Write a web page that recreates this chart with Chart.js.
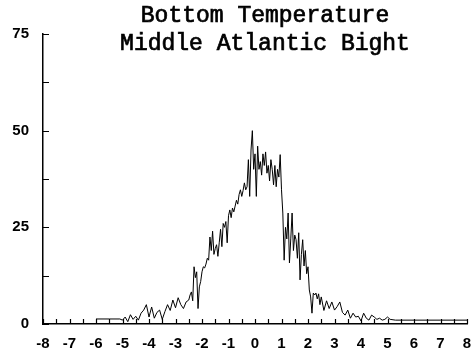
<!DOCTYPE html>
<html>
<head>
<meta charset="utf-8">
<script src="https://cdn.jsdelivr.net/npm/chart.js@4"></script>
<style>
  html, body { margin: 0; padding: 0; background: #fff; }
  #wrap { width: 471px; height: 358px; }
</style>
</head>
<body>
<div id="wrap"><canvas id="chart" width="471" height="358"></canvas></div>
<script>
const titleLines = ['Bottom Temperature', 'Middle Atlantic Bight'];

// temperature anomaly (x) and count (y)
const temps = [
  -6.0, -5.5, -5.1,
  -5.0, -4.9, -4.8, -4.7, -4.6, -4.5, -4.4, -4.3, -4.2, -4.1,
  -4.0, -3.9, -3.8, -3.7, -3.6, -3.5, -3.4, -3.3, -3.2, -3.1,
  -3.0, -2.9, -2.8, -2.7, -2.6, -2.5,
  -2.45, -2.40, -2.35, -2.30, -2.25, -2.20, -2.15, -2.10, -2.05,
  -2.00, -1.95, -1.90, -1.85, -1.80, -1.75, -1.70, -1.65, -1.60, -1.55,
  -1.50, -1.45, -1.40, -1.35, -1.30, -1.25, -1.20, -1.15, -1.10, -1.05,
  -1.00, -0.95, -0.90, -0.85, -0.80, -0.75, -0.70, -0.65, -0.60, -0.55,
  -0.50, -0.45, -0.40, -0.35, -0.30, -0.25, -0.20, -0.15, -0.10, -0.05,
  0.00, 0.05, 0.10, 0.15, 0.20, 0.25, 0.30, 0.35, 0.40, 0.45,
  0.50, 0.55, 0.60, 0.65, 0.70, 0.75, 0.80, 0.85, 0.90, 0.95,
  1.00, 1.05, 1.10, 1.15, 1.20, 1.25, 1.30, 1.35, 1.40, 1.45,
  1.50, 1.55, 1.60, 1.65, 1.70, 1.75, 1.80, 1.85, 1.90, 1.95,
  2.00, 2.05, 2.10, 2.15, 2.20, 2.25, 2.30, 2.35, 2.40, 2.45,
  2.5, 2.6, 2.7, 2.8, 2.9, 3.0, 3.1, 3.2, 3.3, 3.4,
  3.5, 3.6, 3.7, 3.8, 3.9, 4.0, 4.1, 4.2, 4.3, 4.4,
  4.5, 4.6, 4.7, 4.8, 4.9, 5.0, 5.1, 5.3, 6.0, 7.0, 8.0
];
const counts = [
  1.3, 1.3, 1.3,
  1.0, 1.8, 0.6, 2.4, 1.2, 2.0, 1.0, 2.8, 3.6, 5.0,
  1.8, 4.4, 1.5, 3.0, 3.6, 1.2, 3.2, 5.0, 3.5, 6.2,
  4.2, 6.8, 5.0, 4.0, 5.7, 6.2,
  7.5, 8.3, 6.0, 14.8, 12.0, 13.5, 4.0, 9.6, 11.0,
  13.5, 14.8, 14.5, 15.5, 17.0, 16.5, 22.5, 19.0, 24.0, 18.0,
  19.5, 20.5, 17.5, 21.0, 24.5, 20.0, 26.0, 25.0, 26.5, 21.0,
  28.0, 29.5, 27.5, 30.0, 29.0, 30.5, 32.0, 31.0, 33.5, 34.7,
  33.0, 34.5, 36.5, 34.7, 35.5, 42.5, 33.0, 45.0, 50.0, 40.0,
  44.0, 33.0, 46.0, 40.0, 42.0, 38.5, 44.0, 41.0, 44.5, 39.0,
  41.0, 37.0, 42.5, 40.0, 36.0, 41.0, 35.5, 40.0, 38.0, 43.8,
  34.7, 28.7, 16.5, 25.0, 22.0, 28.7, 15.8, 22.0, 28.7, 19.0,
  23.0, 21.8, 17.0, 23.6, 11.4, 18.0, 21.8, 15.0, 19.0, 13.0,
  14.8, 8.8, 7.0, 2.8, 8.0, 7.5, 8.0, 6.5, 7.8, 5.0,
  7.0, 3.5, 6.0, 4.0, 5.7, 3.6, 4.5, 5.7, 3.0, 2.3,
  3.6, 1.5, 2.8, 1.8, 2.0, 0.8, 2.8, 1.5, 1.0, 2.3,
  1.8, 1.2, 1.5, 1.0, 1.2, 1.8, 1.2, 1.0, 1.0, 1.0, 1.0
];

const xMin = -8, xMax = 8, xStep = 0.5;
const yMin = 0, yMax = 75, yStep = 12.5, yLabelStep = 25;

// small inward ticks + the title text drawn over the plot
const decor = {
  id: 'decor',
  afterDraw(chart) {
    const ctx = chart.ctx;
    const x = chart.scales.x, y = chart.scales.y;
    ctx.save();
    ctx.strokeStyle = '#000';
    ctx.lineWidth = 1.2;
    ctx.beginPath();
    x.ticks.forEach(t => {
      const px = Math.round(x.getPixelForValue(t.value)) + 0.5;
      ctx.moveTo(px, y.bottom);
      ctx.lineTo(px, y.bottom - 5);
    });
    y.ticks.forEach(t => {
      const py = Math.round(y.getPixelForValue(t.value)) + 0.5;
      ctx.moveTo(x.left, py);
      ctx.lineTo(x.left + 6, py);
    });
    ctx.stroke();

    ctx.fillStyle = '#000';
    ctx.font = '23px "Liberation Mono", "Courier New", monospace';
    ctx.textAlign = 'center';
    ctx.textBaseline = 'middle';
    // fake a medium weight: regular glyphs stroked thinly
    ctx.strokeStyle = '#000';
    ctx.lineWidth = 0.7;
    titleLines.forEach((line, i) => {
      ctx.fillText(line, 265, 16 + i * 28);
      ctx.strokeText(line, 265, 16 + i * 28);
    });
    ctx.restore();
  }
};

const ctx = document.getElementById('chart').getContext('2d');
const myChart = new Chart(ctx, {
  type: 'line',
  data: {
    datasets: [{
      data: temps.map((t, i) => ({x: t, y: counts[i]})),
      borderColor: '#000',
      borderWidth: 1,
      pointRadius: 0,
      tension: 0,
      fill: false
    }]
  },
  options: {
    responsive: false,
    animation: false,
    layout: {padding: {top: 34, right: 4, left: 0, bottom: 0}},
    plugins: {legend: {display: false}, tooltip: {enabled: false}, title: {display: false}},
    scales: {
      x: {
        type: 'linear',
        min: xMin, max: xMax,
        grid: {display: true, drawOnChartArea: false, drawTicks: false},
        border: {display: true, color: '#000', width: 1.5},
        ticks: {
          stepSize: xStep,
          autoSkip: false,
          maxRotation: 0,
          padding: 11,
          color: '#000',
          font: {family: '"Liberation Sans", Arial, sans-serif', size: 15, weight: 'bold'},
          callback: v => Number.isInteger(v) ? String(v) : ''
        },
        afterFit(scale) { scale.height = 34; scale.paddingRight = 0; }
      },
      y: {
        min: yMin, max: yMax,
        grid: {display: true, drawOnChartArea: false, drawTicks: false},
        border: {display: true, color: '#000', width: 1.5},
        ticks: {
          stepSize: yStep,
          autoSkip: false,
          padding: 14,
          color: '#000',
          font: {family: '"Liberation Sans", Arial, sans-serif', size: 15, weight: 'bold'},
          callback: v => v % yLabelStep === 0 ? String(v) : ''
        },
        afterFit(scale) { scale.width = 43; scale.paddingTop = 0; }
      }
    }
  },
  plugins: [decor]
});
</script>
</body>
</html>
